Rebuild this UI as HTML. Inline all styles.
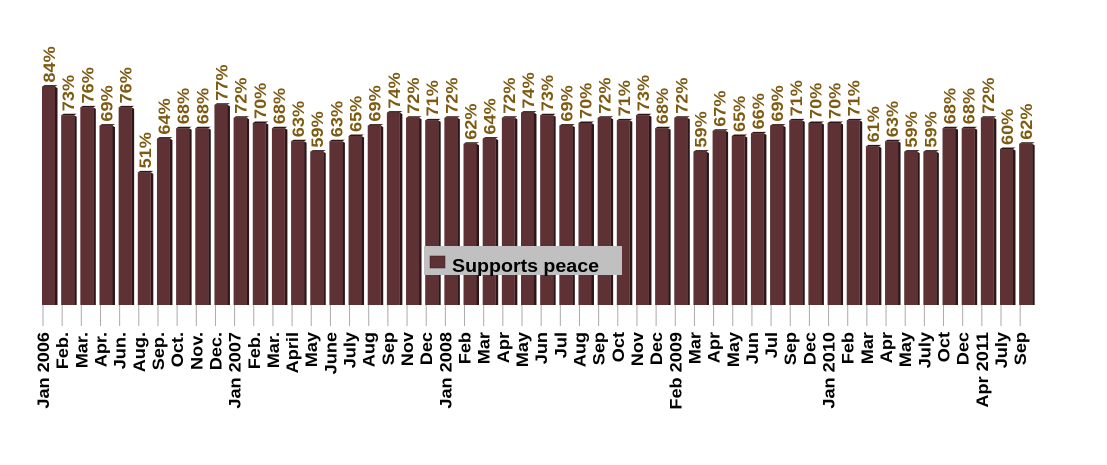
<!DOCTYPE html>
<html><head><meta charset="utf-8"><style>
html,body{margin:0;padding:0;background:#fff;}
svg text{font-family:"Liberation Sans",Arial,sans-serif;font-weight:bold;}
</style></head><body>
<svg width="1107" height="460" xmlns="http://www.w3.org/2000/svg">
<g id="g"></g>
<rect x="424" y="246" width="198" height="29" fill="#c0c0c0"/>
<rect x="430" y="256" width="15" height="12" fill="#5e3134" stroke="#3a1c1e" stroke-width="0.5"/>
<text x="452" y="272" font-size="18.5" fill="#000" textLength="147" lengthAdjust="spacingAndGlyphs">Supports peace</text>
</svg>
<script>
var v=[84,73,76,69,76,51,64,68,68,77,72,70,68,63,59,63,65,69,74,72,71,72,62,64,72,74,73,69,70,72,71,73,68,72,59,67,65,66,69,71,70,70,71,61,63,59,59,68,68,72,60,62];
var l=["Jan 2006","Feb.","Mar.","Apr.","Jun.","Aug.","Sep.","Oct.","Nov.","Dec.","Jan 2007","Feb.","Mar.","April","May","June","July","Aug","Sep","Nov","Dec","Jan 2008","Feb","Mar","Apr","May","Jun","Jul","Aug","Sep","Oct","Nov","Dec","Feb 2009","Mar","Apr","May","Jun","Jul","Sep","Dec","Jan 2010","Feb","Mar","Apr","May","July","Oct","Dec","Apr 2011","July","Sep"];
var s="";
for(var i=0;i<v.length;i++){
 var x=42+i*19.16, t=305-v[i]*2.6, tx=x+1;
 s+='<line x1="'+tx+'" y1="295" x2="'+tx+'" y2="326" stroke="#aaa" stroke-width="1"/>';
 s+='<polygon points="'+(x+13)+','+(t)+' '+(x+15.5)+','+(t+1.5)+' '+(x+15.5)+','+305+' '+(x+13)+',305" fill="#2e1517"/>';
 s+='<polygon points="'+x+','+t+' '+(x+2.5)+','+(t-1.5)+' '+(x+15.5)+','+(t-1.5)+' '+(x+13)+','+t+'" fill="#2e1517"/>';
 s+='<rect x="'+x+'" y="'+t+'" width="13" height="'+(305-t)+'" fill="#5e3134"/>';
 s+='<text transform="translate('+(x+13)+','+(t-4)+') rotate(-90) scale(1.1,1)" font-size="16.5" fill="#7d5a12">'+v[i]+'%</text>';
 s+='<text transform="translate('+(tx+6)+',332) rotate(-90) scale(1.1,1)" text-anchor="end" font-size="16.5" fill="#000">'+l[i]+'</text>';
}
document.getElementById("g").innerHTML=s;
</script>
</body></html>
